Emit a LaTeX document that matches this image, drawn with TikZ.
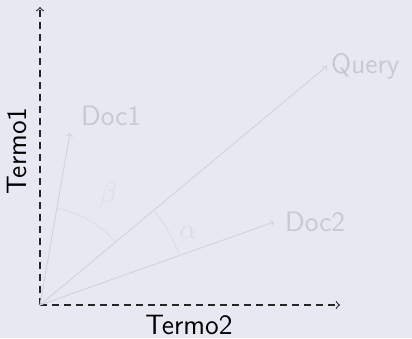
\documentclass[tikz,border=0pt]{standalone}
\usepackage{xcolor}
\usepackage{tikz}
\definecolor{bgcol}{RGB}{232,232,242}
\definecolor{vecgray}{RGB}{210,210,217}
\definecolor{txtgray}{RGB}{200,200,207}
\definecolor{anggray}{RGB}{220,220,230}
\begin{document}
\begin{tikzpicture}[x=0.5pt,y=0.5pt,>=to,font=\sffamily\fontsize{14}{17}\selectfont,
  axis/.style={->,line width=0.55pt,draw=black!85,dash pattern=on 3.5pt off 2.5pt},
  vec/.style={->,line width=0.45pt,draw=vecgray},
  doclabel/.style={text=txtgray},
  anglearc/.style={line width=0.45pt,draw=anggray}]
% background and frame
\fill[bgcol] (-40,-33) rectangle (372,305);
\useasboundingbox (-40,-33) rectangle (372,305);

% Axes
\coordinate (O) at (0,0);
\coordinate (t1) at (0,298);
\coordinate (t2) at (300,0);
\draw[axis] (O) -- (t1);
\draw[axis] (O) -- (t2);
\node[rotate=90] (termo1) at (-23,154) {Termo1};
\node (termo2) at (149,-20) {Termo2};

% Vectors
\coordinate (d1) at (30,172);
\coordinate (q) at (287,239);
\coordinate (d2) at (234,83);
\draw[vec] (O) -- (d1) node[above right,xshift=2pt,doclabel] (doc1) {Doc1};
\draw[vec] (O) -- (q) node[right,xshift=-1.5pt,doclabel] (query) {Query};
\draw[vec] (O) -- (d2) node[right,xshift=2pt,doclabel] (doc2) {Doc2};

% Angles
\draw[anglearc] (80.1:98) arc (80.1:39.8:98);
\node[text=anggray] (beta) at (58:129) {$\beta$};
\draw[anglearc] (39.8:148) arc (39.8:19.5:148);
\node[text=anggray] (alpha) at (26:165) {$\alpha$};
\end{tikzpicture}
\end{document}
